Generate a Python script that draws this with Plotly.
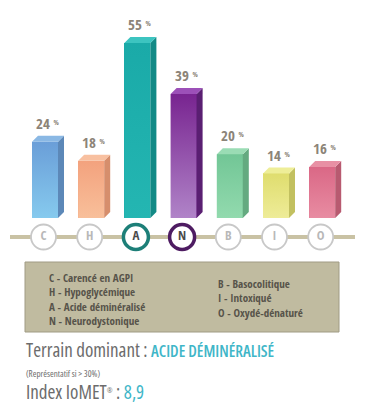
import plotly.graph_objects as go

# ---- data ----
letters = ["C", "H", "A", "N", "B", "I", "O"]
values = [24, 18, 55, 39, 20, 14, 16]
front_top = ["#6a9ed8", "#f3a27e", "#1aaaa8", "#782490", "#72c696", "#dfdd6e", "#da6886"]
front_bottom = ["#86caee", "#f8bf9a", "#24b6b2", "#b084c8", "#92daae", "#eeec98", "#e88ca2"]
side_colors = ["#5c88b8", "#d68e6c", "#138a86", "#5a1f72", "#64aa80", "#c2c060", "#b85a70"]
top_colors = ["#8ab8e4", "#f8c0a0", "#3cc4c0", "#9c50b8", "#9adcb4", "#eeee98", "#e890a4"]
legend_left = ["C - Carencé en AGPI", "H - Hypoglycémique", "A - Acide déminéralisé", "N - Neurodystonique"]
legend_right = ["B - Basocolitique", "I - Intoxiqué", "O - Oxydé-dénaturé"]
highlight = {"A": "#1d7f78", "N": "#4e1c62"}
dominant = "ACIDE DÉMINÉRALISÉ"
index_value = "8,9"

OFF = 8                  # page body margin
W, H = 366 - OFF, 409 - OFF
PX_PER_X = 46.2          # pixels per category
PX_PER_Y = 175 / 55      # pixels per percent
X0_PX, Y0_PX = 45 - OFF, 218 - OFF   # pixel position of category 0 / value 0
x_range = [-X0_PX / PX_PER_X, (W - X0_PX) / PX_PER_X]
y_range = [-(H - Y0_PX) / PX_PER_Y, Y0_PX / PX_PER_Y]

bw = 26 / PX_PER_X
dx = 6 / PX_PER_X
dy = 6 / PX_PER_Y

BOLD = "Open Sans Condensed, Roboto Condensed, sans-serif"
NARROW = "Open Sans, Roboto Condensed, sans-serif"

def pxx(p):
    return (p - OFF) / W

def pxy(p):
    return 1 - (p - OFF) / H

fig = go.Figure()
xs = list(range(len(letters)))

# front faces
fig.add_trace(go.Bar(x=xs, y=values, width=bw, marker=dict(color=front_top, line=dict(width=0)),
                     showlegend=False, hoverinfo="skip"))

# gradient overlay, side and top faces (3D effect)
for i, v in enumerate(values):
    xl, xr = i - bw / 2, i + bw / 2
    fig.add_trace(go.Scatter(x=[xl, xr, xr, xl, xl], y=[0, 0, v, v, 0], fill="toself",
                             fillgradient=dict(type="vertical",
                                               colorscale=[[0, front_bottom[i]], [1, front_top[i]]]),
                             line=dict(width=0), mode="lines", showlegend=False, hoverinfo="skip"))
    fig.add_trace(go.Scatter(x=[xr, xr + dx, xr + dx, xr, xr], y=[0, dy, v + dy, v, 0],
                             fill="toself", fillcolor=side_colors[i], line=dict(width=0),
                             mode="lines", showlegend=False, hoverinfo="skip"))
    fig.add_trace(go.Scatter(x=[xl, xl + dx, xr + dx, xr, xl], y=[v, v + dy, v + dy, v, v],
                             fill="toself", fillcolor=top_colors[i], line=dict(width=0),
                             mode="lines", showlegend=False, hoverinfo="skip"))
    fig.add_annotation(x=i + dx / 2, y=v + dy + 0.3, xref="x", yref="y", showarrow=False,
                       yanchor="bottom", xanchor="center",
                       text=f"{v} <span style='font-size:7px;baseline-shift:4px'>%</span>",
                       font=dict(family=BOLD, size=15, color="#8c8478"))

# axis line with circles
line_y = -(237 - OFF - Y0_PX) / PX_PER_Y
fig.add_shape(type="line", x0=(10 - 45) / PX_PER_X, x1=(355 - 45) / PX_PER_X,
              y0=line_y, y1=line_y, line=dict(color="#c9c2a4", width=4), layer="below")
fig.add_trace(go.Scatter(
    x=[i - 1.5 / PX_PER_X for i in xs], y=[line_y] * len(xs), mode="markers+text",
    marker=dict(size=25, color="white",
                line=dict(width=[3.5 if l in highlight else 1.8 for l in letters],
                          color=[highlight.get(l, "#c8c8c8") for l in letters])),
    text=letters,
    textposition="middle center",
    textfont=dict(family=BOLD, size=13, color=["#4a4a4a" if l in highlight else "#b8b8b8" for l in letters]),
    showlegend=False, hoverinfo="skip"))

# legend box
fig.add_shape(type="rect", xref="paper", yref="paper", x0=pxx(25), x1=pxx(339), y0=pxy(262), y1=pxy(332),
              fillcolor="#c0bba0", line=dict(color="#a09b84", width=1))
fig.add_annotation(xref="paper", yref="paper", x=pxx(47), y=pxy(268), xanchor="left", yanchor="top",
                   showarrow=False, align="left", text="<br>".join(legend_left),
                   font=dict(family=BOLD, size=11, color="#57534a"))
fig.add_annotation(xref="paper", yref="paper", x=pxx(216), y=pxy(274), xanchor="left", yanchor="top",
                   showarrow=False, align="left", text="<br>".join(legend_right),
                   font=dict(family=BOLD, size=11, color="#57534a"))

# bottom texts
fig.add_annotation(xref="paper", yref="paper", x=pxx(24), y=pxy(350), xanchor="left", yanchor="middle",
                   showarrow=False,
                   text=("<span style='font-stretch:condensed'>Terrain dominant : </span>"
                         "<span style='color:#3fb6c8;font-stretch:condensed;font-weight:600;font-size:16px'>"
                         f"{dominant}</span>"),
                   font=dict(family=NARROW, size=19, color="#6c6c6c"))
fig.add_annotation(xref="paper", yref="paper", x=pxx(24), y=pxy(373), xanchor="left", yanchor="middle",
                   showarrow=False, text="<span style='font-stretch:condensed'>(Représentatif si > 30%)</span>",
                   font=dict(family=NARROW, size=9, color="#6c6c6c"))
fig.add_annotation(xref="paper", yref="paper", x=pxx(24), y=pxy(392), xanchor="left", yanchor="middle",
                   showarrow=False,
                   text=("<span style='font-stretch:condensed'>Index IoMET</span>"
                         "<span style='font-size:7px;baseline-shift:6px'>®</span>"
                         "<span style='font-stretch:condensed'> : </span>"
                         f"<span style='font-stretch:condensed;color:#3fb6c8'>{index_value}</span>"),
                   font=dict(family=NARROW, size=19, color="#6c6c6c"))

fig.update_layout(width=W, height=H, margin=dict(l=0, r=0, t=0, b=0),
                  paper_bgcolor="white", plot_bgcolor="white", showlegend=False,
                  xaxis=dict(range=x_range, visible=False, fixedrange=True),
                  yaxis=dict(range=y_range, visible=False, fixedrange=True),
                  bargap=0)
fig.write_html("out.html")
